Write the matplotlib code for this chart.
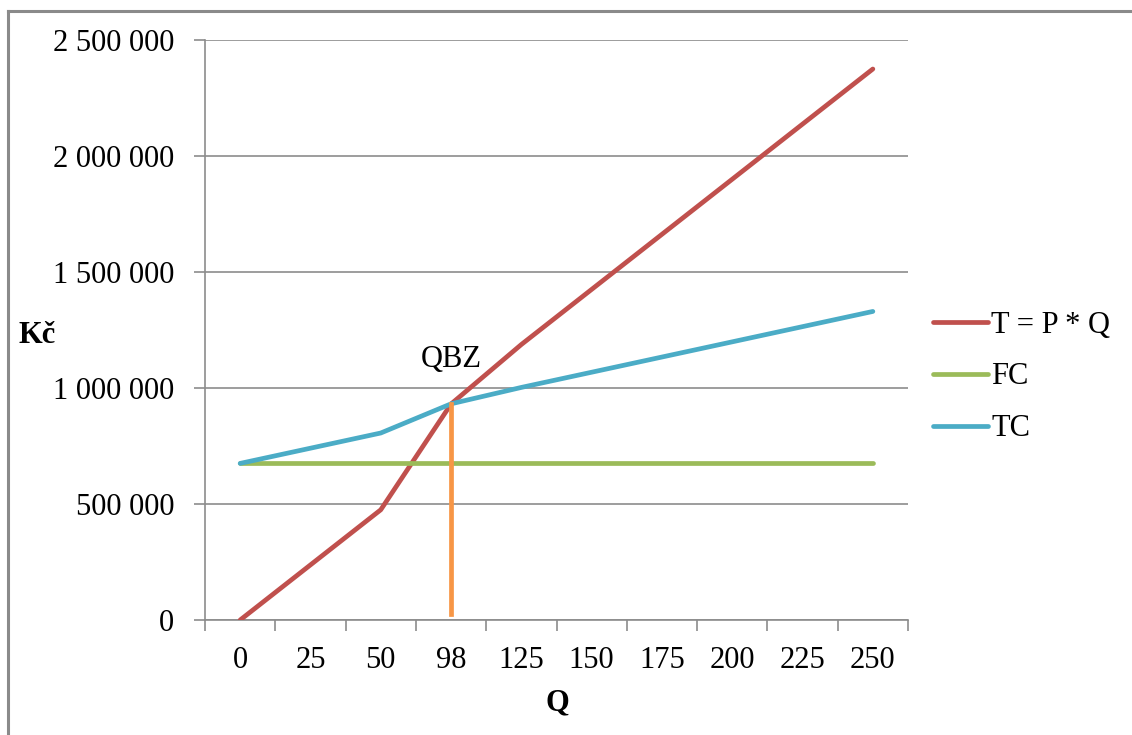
import matplotlib.pyplot as plt
from matplotlib.lines import Line2D
from matplotlib.ticker import FuncFormatter

plt.rcParams["font.family"] = ["Liberation Serif", "DejaVu Serif"]

q_labels = ["0", "25", "50", "98", "125", "150", "175", "200", "225", "250"]
revenue = [0, 237500, 475000, 931000, 1187500, 1425000, 1662500, 1900000, 2137500, 2375000]
fixed_costs = [675000, 675000, 675000, 675000, 675000, 675000, 675000, 675000, 675000, 675000]
total_costs = [675000, 740500, 806000, 931800, 1002500, 1068000, 1133500, 1199000, 1264500, 1330000]

# break-even marker
qbz_index = 3
qbz_range = [25000, 931000]

RED = "#C0504D"
GREEN = "#9BBB59"
BLUE = "#4BACC6"
ORANGE = "#F79646"
GRID = "#8C8C8C"

fig = plt.figure(figsize=(11.32, 7.35), dpi=100)
ax = fig.add_axes([205 / 1132, 1 - 620 / 735, 703 / 1132, 580 / 735])

x = list(range(len(q_labels)))
lw = 3.4
ax.plot(x, revenue, color=RED, lw=lw, solid_capstyle="round", label="T = P * Q", zorder=3)
ax.plot(x, fixed_costs, color=GREEN, lw=lw, solid_capstyle="round", label="FC", zorder=3)
ax.plot(x, total_costs, color=BLUE, lw=lw, solid_capstyle="round", label="TC", zorder=4)
ax.plot([qbz_index, qbz_index], qbz_range, color=ORANGE, lw=lw, zorder=5)
ax.text(qbz_index, 1125000, "QBZ", ha="center", va="center", fontsize=22)

ax.set_xlim(-0.5, len(q_labels) - 0.5)
ax.set_ylim(0, 2500000)
ax.set_yticks(range(0, 2500001, 500000))
ax.yaxis.set_major_formatter(FuncFormatter(lambda v, p: f"{int(v):,}".replace(",", " ")))
ax.grid(axis="y", color=GRID, lw=1.2, zorder=0)

ax.set_xticks(x)
ax.set_xticklabels(q_labels)
ax.set_xticks([i - 0.5 for i in range(len(q_labels) + 1)], minor=True)
ax.tick_params(axis="x", which="major", length=0, pad=19, labelsize=22)
ax.tick_params(axis="x", which="minor", length=8, width=1.2, color=GRID, direction="out")
ax.tick_params(axis="y", length=8, width=1.2, color=GRID, pad=14, labelsize=22)

for side in ["top", "right"]:
    ax.spines[side].set_visible(False)
for side in ["left", "bottom"]:
    ax.spines[side].set_color(GRID)
    ax.spines[side].set_linewidth(1.2)

fig.text(37 / 1132, 1 - 335 / 735, "Kč", ha="center", va="center", fontsize=22, fontweight="bold")
fig.text(557 / 1132, 1 - 703 / 735, "Q", ha="center", va="center", fontsize=22, fontweight="bold")

handles = [Line2D([], [], color=c, lw=lw, solid_capstyle="round") for c in (RED, GREEN, BLUE)]
fig.legend(handles, ["T = P * Q", "FC", "TC"], loc="center left",
           bbox_to_anchor=(918 / 1132, 1 - 377 / 735), frameon=False, fontsize=22,
           handlelength=1.8, handletextpad=0.1, labelspacing=0.75, borderpad=0)

# chart area frame (left and top edges)
fig.add_artist(Line2D([8 / 1132, 8 / 1132], [0, 1 - 11 / 735], color="#8A8A8A", lw=2.2))
fig.add_artist(Line2D([8 / 1132, 1], [1 - 11 / 735, 1 - 11 / 735], color="#8A8A8A", lw=2.2))

fig.savefig("out.png", dpi=100)
